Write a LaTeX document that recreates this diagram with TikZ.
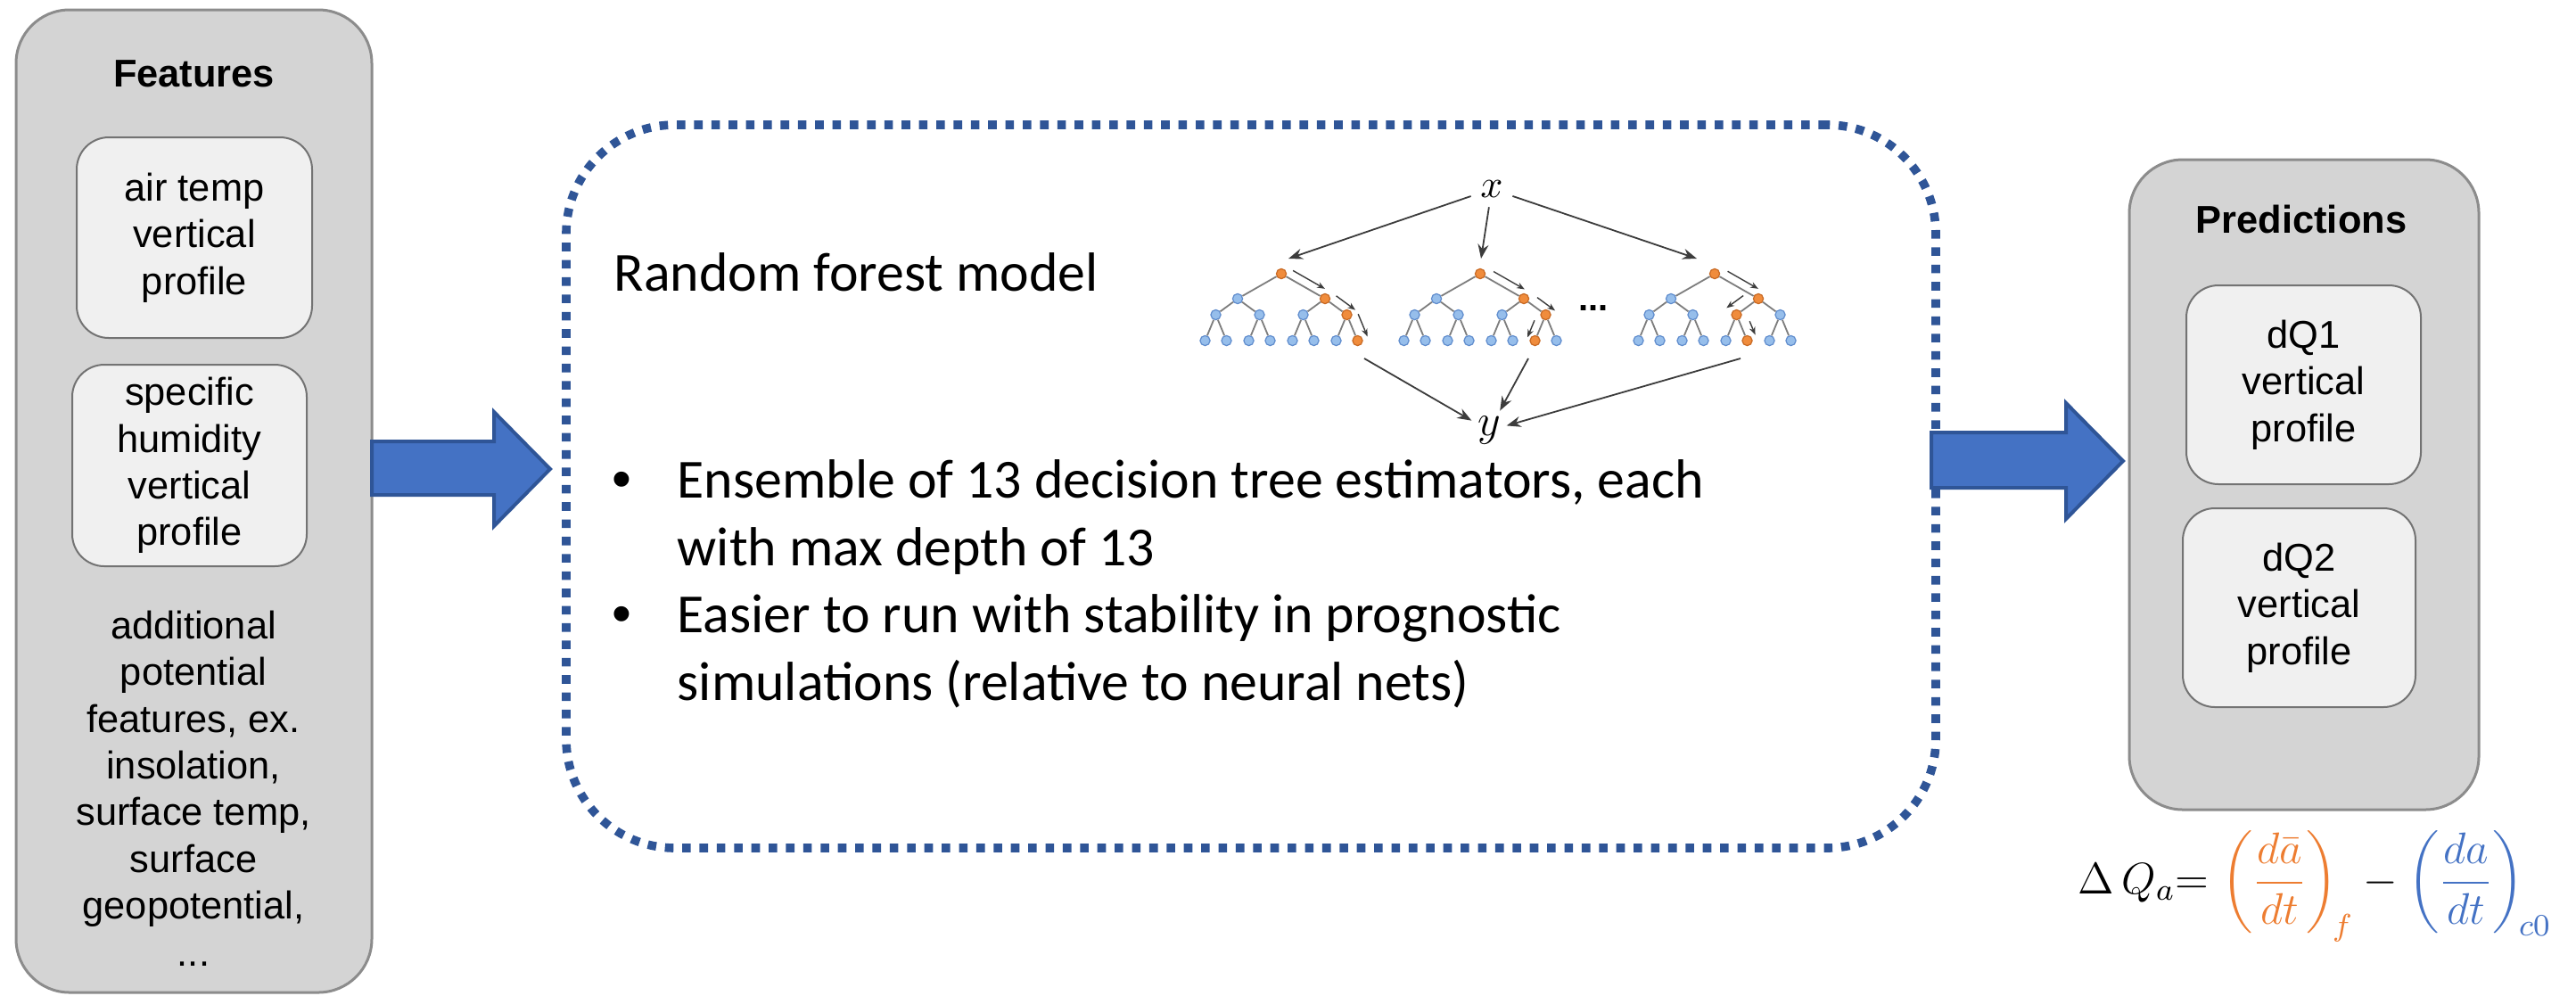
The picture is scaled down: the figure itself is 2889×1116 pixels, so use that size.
\documentclass[tikz,border=0pt]{standalone}
\usepackage{fix-cm}
\usepackage{amsmath}
\usepackage[no-math]{fontspec}
\setmainfont{Liberation Sans}
\newfontfamily\calib{Carlito}
\usetikzlibrary{arrows.meta,calc}

\definecolor{panelgray}{RGB}{212,212,212}
\definecolor{panelborder}{RGB}{140,140,140}
\definecolor{innerfill}{RGB}{240,240,240}
\definecolor{innerborder}{RGB}{115,115,115}
\definecolor{dashblue}{RGB}{47,85,151}
\definecolor{arrowfill}{RGB}{68,114,196}
\definecolor{forange}{RGB}{237,125,49}
\definecolor{fblue}{RGB}{68,114,196}
\definecolor{leafblue}{RGB}{150,190,235}
\definecolor{leafblueb}{RGB}{95,140,205}
\definecolor{leaforange}{RGB}{240,140,60}
\definecolor{leaforangeb}{RGB}{200,105,35}
\definecolor{treeedge}{RGB}{125,125,125}
\definecolor{treearrow}{RGB}{60,60,60}

\newcommand\featfont{\fontsize{10.85pt}{13.1pt}\selectfont}
\newcommand\rffont{\calib\fontsize{15.45pt}{18.9pt}\selectfont}
\newcommand\bulfont{\fontsize{15.6pt}{18.9pt}\selectfont}

% one tree of the forest: #1 prefix, #2 root x, #3 orange level-3 index, #4 orange level-4 index
\newcommand\rftree[4]{%
  \node[oleaf] (#1-0-0) at (#2,307) {};
  \node[leaf] (#1-1-0) at ({#2-49},335) {};
  \node[oleaf] (#1-1-1) at ({#2+49},335) {};
  \foreach \i in {0,...,3}{%
    \ifnum\i=#3 \node[oleaf] (#1-2-\i) at ({#2-73.5+49*\i},353) {};%
    \else \node[leaf] (#1-2-\i) at ({#2-73.5+49*\i},353) {};\fi}
  \foreach \i in {0,...,7}{%
    \ifnum\i=#4 \node[oleaf] (#1-3-\i) at ({#2-85.5+49*int(\i/2)+24*mod(\i,2)},382) {};%
    \else \node[leaf] (#1-3-\i) at ({#2-85.5+49*int(\i/2)+24*mod(\i,2)},382) {};\fi}
  \foreach \i in {0,1}{\draw[tedge] (#1-0-0) -- (#1-1-\i);}
  \foreach \i in {0,...,3}{\pgfmathtruncatemacro\tpar{\i/2}\draw[tedge] (#1-1-\tpar) -- (#1-2-\i);}
  \foreach \i in {0,...,7}{\pgfmathtruncatemacro\tpar{\i/2}\draw[tedge] (#1-2-\tpar) -- (#1-3-\i);}
}
% small arrow running beside a tree edge
\newcommand\sidearr[5]{\draw[sarrow] ($(#1)!#3!(#2)!#5!-90:(#1)$) -- ($(#1)!#4!(#2)!#5!-90:(#1)$);}

\begin{document}
\begin{tikzpicture}[x=0.25pt,y=-0.25pt,
  panel/.style={draw=panelborder, line width=0.75pt, fill=panelgray, rounded corners=15pt, inner sep=0},
  innerbox/.style={draw=innerborder, line width=0.5pt, fill=innerfill, rounded corners=9pt, align=center, font=\featfont, inner sep=0},
  dashbox/.style={draw=dashblue, line width=2.4pt, dash pattern=on 2.4pt off 2.45pt, rounded corners=30.5pt, inner sep=0},
  blockarrow/.style={fill=arrowfill, draw=dashblue, line width=1pt},
  leaf/.style={circle, minimum size=2.8pt, inner sep=0, fill=leafblue, draw=leafblueb, line width=0.3pt},
  oleaf/.style={leaf, fill=leaforange, draw=leaforangeb},
  tedge/.style={draw=treeedge, line width=0.45pt},
  sarrow/.style={draw=treearrow, line width=0.35pt, -{Stealth[length=2.2pt,width=1.7pt]}},
  farrow/.style={draw=treearrow, line width=0.45pt, -{Stealth[length=4pt,width=3pt]}}
]
\useasboundingbox (0,0) rectangle (2889,1116);

% ---------- Features panel ----------
\node[panel, minimum width=99.75pt, minimum height=275.5pt] (featpanel) at (217.5,562) {};
\node[anchor=base, inner sep=0, font={\featfont\bfseries}] (feattitle) at (217.5,97) {Features};
\node[innerbox, minimum width=66pt, minimum height=56.25pt] (airtemp) at (218,266.5) {air temp\\vertical\\profile};
\node[innerbox, minimum width=65.75pt, minimum height=56.5pt] (humid) at (212.5,522) {specific\\humidity\\vertical\\profile};
\node[anchor=north, align=center, font=\featfont, inner sep=0] (extra) at (217,684)
  {additional\\potential\\features, ex.\\insolation,\\surface temp,\\surface\\geopotential,\\...};

% ---------- Random forest box ----------
\node[dashbox, minimum width=384pt, minimum height=202.75pt] (rfbox) at (1403,545.5) {};
\node[anchor=base west, inner sep=0, font=\rffont] (rftitle) at (688,326) {Random forest model};
\node[anchor=base, inner sep=0, font=\bulfont] (bul1) at (697,558) {\textbullet};
\node[anchor=base, inner sep=0, font=\bulfont] (bul2) at (697,709) {\textbullet};
\node[anchor=north west, inner sep=0, align=left, font=\rffont] (item1) at (759,515)
  {Ensemble of 13 decision tree estimators, each\\with max depth of 13};
\node[anchor=north west, inner sep=0, align=left, font=\rffont] (item2) at (759,666)
  {Easier to run with stability in prognostic\\simulations (relative to neural nets)};

% forest sketch
\rftree{A}{1437}{3}{7}
\rftree{B}{1660}{3}{6}
\rftree{C}{1923}{2}{5}
\sidearr{A-0-0}{A-1-1}{0.17}{0.9}{2.4pt}
\sidearr{A-1-1}{A-2-3}{0.27}{1.15}{2.5pt}
\sidearr{A-2-3}{A-3-7}{0.13}{1.0}{3pt}
\sidearr{B-0-0}{B-1-1}{0.21}{0.92}{2.4pt}
\sidearr{B-1-1}{B-2-3}{0.37}{1.19}{2.5pt}
\sidearr{B-2-3}{B-3-6}{0.34}{0.99}{-2.3pt}
\sidearr{C-0-0}{C-1-1}{0.2}{0.9}{2.4pt}
\sidearr{C-1-1}{C-2-2}{0.38}{1.15}{-3.2pt}
\sidearr{C-2-2}{C-3-5}{0.39}{0.92}{2.7pt}
\node[inner sep=0, font={\fontsize{10pt}{12pt}\selectfont\bfseries}] (fdots) at (1787,346) {...};

\node[inner sep=2.5pt, font=\fontsize{11pt}{13pt}\selectfont] (xin) at (1673,212) {$x$};
\node[inner sep=1.5pt, font=\fontsize{12.5pt}{15pt}\selectfont] (yout) at (1670,483) {$y$};
\coordinate (inA) at (1445,290);
\coordinate (inB) at (1661,290);
\coordinate (inC) at (1903,290);
\coordinate (outA) at (1530,402);
\coordinate (outB) at (1714,402);
\coordinate (outC) at (1952,402);
\draw[farrow] (xin) -- (inA);
\draw[farrow] (xin) -- (inB);
\draw[farrow] (xin) -- (inC);
\draw[farrow] (outA) -- (yout);
\draw[farrow] (outB) -- (yout);
\draw[farrow] (outC) -- (yout);

% ---------- Predictions panel ----------
\node[panel, minimum width=98pt, minimum height=182.25pt] (predpanel) at (2584,543.5) {};
\node[anchor=base, inner sep=0, font={\featfont\bfseries}] (predtitle) at (2581,261) {Predictions};
\node[innerbox, minimum width=65.75pt, minimum height=55.75pt] (dq1) at (2583.5,431.5) {dQ1\\vertical\\profile};
\node[innerbox, minimum width=65.25pt, minimum height=55.75pt] (dq2) at (2578.5,681.5) {dQ2\\vertical\\profile};

% ---------- block arrows ----------
\draw[blockarrow] (417,495) -- (554,495) -- (554,462) -- (617,526) -- (554,590) -- (554,555) -- (417,555) -- cycle;
\draw[blockarrow] (2166,485) -- (2317,485) -- (2317,452) -- (2381,517) -- (2317,582) -- (2317,547) -- (2166,547) -- cycle;

% ---------- formula ----------
\node[anchor=base west, inner sep=0, font=\fontsize{12.4pt}{15pt}\selectfont] (formula) at (2330,1002)
  {$\displaystyle \Delta\,Q_a{\mathbf{=}}\;{\color{forange}\left(\frac{d\bar{a}}{dt}\right)_{\!f}} - {\color{fblue}\left(\frac{da}{dt}\right)_{\!c0}}$};
\end{tikzpicture}
\end{document}
